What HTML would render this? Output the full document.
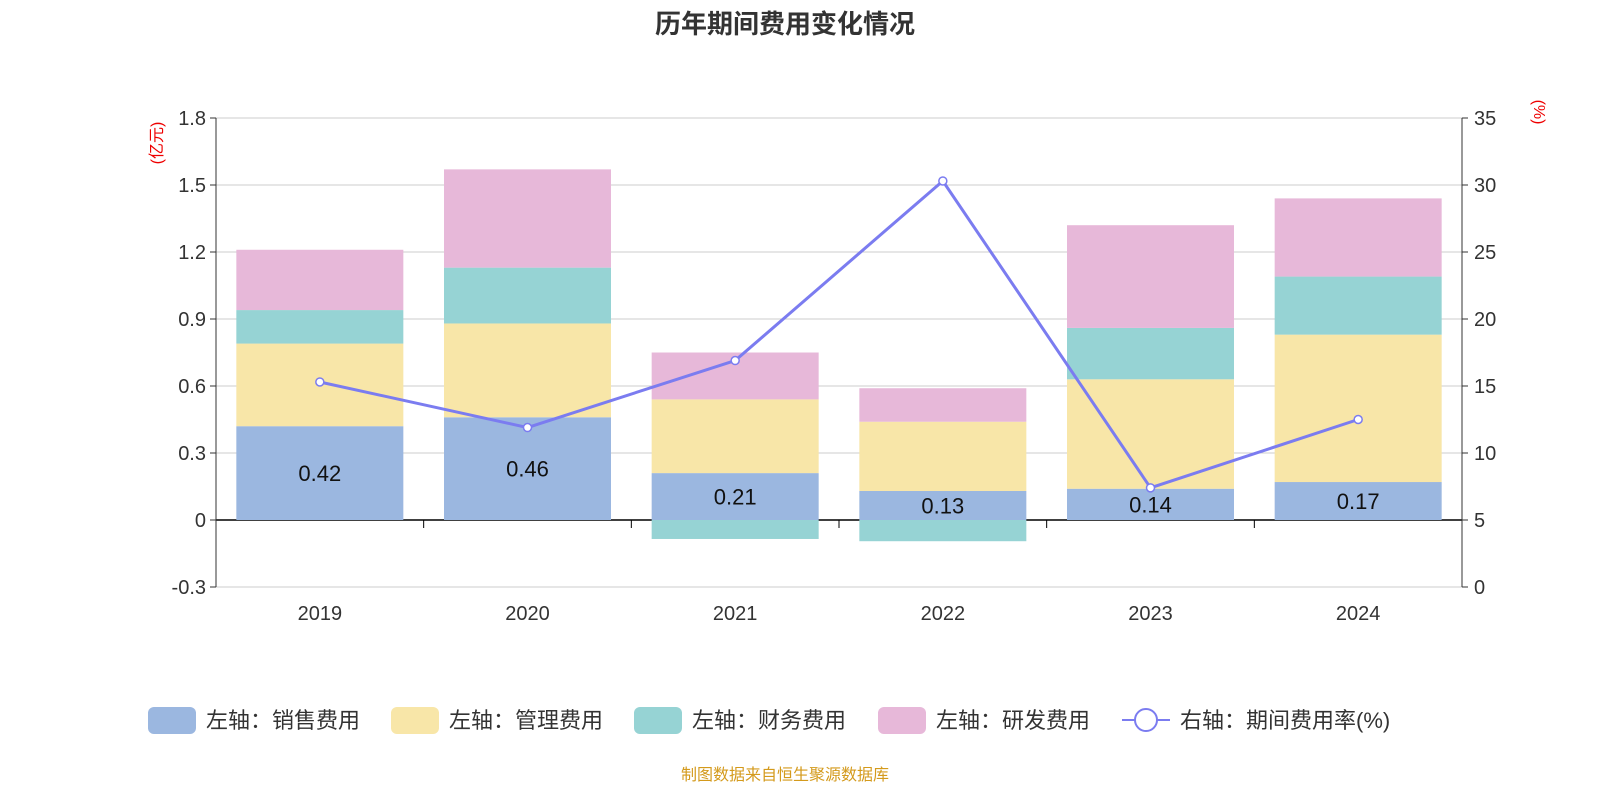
<!DOCTYPE html>
<html><head><meta charset="utf-8"><style>
body{margin:0;background:#fff;}
svg{display:block;font-family:"Liberation Sans","Noto Sans CJK SC",sans-serif;}
</style></head><body>
<svg id="chart" width="1600" height="800" viewBox="0 0 1600 800">
<text x="785" y="33" text-anchor="middle" font-size="26" font-weight="bold" fill="#333">历年期间费用变化情况</text>
<text transform="translate(162,143) rotate(-90)" text-anchor="middle" font-size="16" fill="#e00">(亿元)</text>
<text transform="translate(1534,112) rotate(90)" text-anchor="middle" font-size="16" fill="#e00">(%)</text>
<g id="grid"></g><g id="bars"></g><g id="axes"></g><g id="line"></g>
<g id="legend"></g>
<text x="785" y="780" text-anchor="middle" font-size="16" fill="#d49a1c">制图数据来自恒生聚源数据库</text>
</svg>
<script>
const categories=["2019","2020","2021","2022","2023","2024"];
const sales=[0.42,0.46,0.21,0.13,0.14,0.17];
const mgmt=[0.37,0.42,0.33,0.31,0.49,0.66];
const fin=[0.15,0.25,-0.085,-0.095,0.23,0.26];
const rd=[0.27,0.44,0.21,0.15,0.46,0.35];
const rate=[15.3,11.9,16.9,30.3,7.4,12.5];
const leftTicks=[-0.3,0,0.3,0.6,0.9,1.2,1.5,1.8];
const leftTickLabels=["-0.3","0","0.3","0.6","0.9","1.2","1.5","1.8"];
const rightTicks=[0,5,10,15,20,25,30,35];
const NS="http://www.w3.org/2000/svg";
const x0=216,x1=1462,yTop=118,yBot=587;
const yL=v=>yTop+(1.8-v)/2.1*(yBot-yTop);
const yR=v=>yBot-v/35*(yBot-yTop);
const band=(x1-x0)/categories.length;
const xC=i=>x0+band*(i+0.5);
const bw=167;
function mk(tag,attrs,parent,txt){const e=document.createElementNS(NS,tag);for(const k in attrs)e.setAttribute(k,attrs[k]);if(txt!==undefined)e.textContent=txt;document.getElementById(parent).appendChild(e);return e;}
leftTicks.forEach((t,i)=>{
 const y=yL(t);
 const g=mk('line',{x1:x0,x2:x1,y1:y,y2:y,stroke:t===0?'#000':'#ccc','stroke-width':t===0?1.5:1},'grid');
 
 const tk=mk('line',{x1:x0-6,x2:x0,y1:y,y2:y,stroke:'#333'},'axes');
 const l=mk('text',{x:x0-10,y:y+7,'text-anchor':'end','font-size':20,fill:'#333'},'axes',leftTickLabels[i]);
 
});
rightTicks.forEach(t=>{
 const y=yR(t);
 mk('line',{x1:x1,x2:x1+6,y1:y,y2:y,stroke:'#333'},'axes');
 const l=mk('text',{x:x1+12,y:y+7,'font-size':20,fill:'#333'},'axes',String(t));
 
});
mk('line',{x1:x0,x2:x0,y1:yTop,y2:yBot,stroke:'#333'},'axes');
mk('line',{x1:x1,x2:x1,y1:yTop,y2:yBot,stroke:'#333'},'axes');
for(let i=1;i<categories.length;i++){mk('line',{x1:x0+band*i,x2:x0+band*i,y1:yL(0),y2:yL(0)+8,stroke:'#000'},'axes');}
categories.forEach((c,i)=>{
 const l=mk('text',{x:xC(i),y:620,'text-anchor':'middle','font-size':20,fill:'#333'},'axes',c);
 
});
const series=[[sales,'#9bb7e0','sales'],[mgmt,'#f8e6a8','mgmt'],[fin,'#96d3d4','finance'],[rd,'#e7b8d9','rnd']];
categories.forEach((c,i)=>{
 let pos=0,neg=0;
 series.forEach(([arr,col,nm])=>{
  const v=arr[i];let a,b;
  if(v>=0){a=pos;b=pos+v;pos=b;}else{a=neg;b=neg+v;neg=b;}
  const yt=yL(Math.max(a,b)),yb=yL(Math.min(a,b));
  const r=mk('rect',{x:xC(i)-bw/2,y:yt,width:bw,height:yb-yt,fill:col},'bars');
  
 });
 const t=mk('text',{x:xC(i),y:(yL(0)+yL(sales[i]))/2+8,'text-anchor':'middle','font-size':22,fill:'#111'},'bars',sales[i].toFixed(2));
 
});
const pts=rate.map((v,i)=>xC(i)+','+yR(v)).join(' ');
const pl=mk('polyline',{points:pts,fill:'none',stroke:'#7b7cf0','stroke-width':3},'line');

rate.forEach((v,i)=>{
 const p=mk('circle',{cx:xC(i),cy:yR(v),r:4,fill:'#fff',stroke:'#7b7cf0','stroke-width':1.5},'line');
 
});
const leg=[['左轴：销售费用','#9bb7e0',148],['左轴：管理费用','#f8e6a8',391],['左轴：财务费用','#96d3d4',634],['左轴：研发费用','#e7b8d9',878]];
leg.forEach(([t,c,x])=>{
 const r=mk('rect',{x:x,y:707,width:48,height:27,rx:6,fill:c},'legend');
 
 const tx=mk('text',{x:x+58,y:728,'font-size':22,fill:'#333'},'legend',t);
 
});
mk('line',{x1:1122,x2:1170,y1:720,y2:720,stroke:'#7b7cf0','stroke-width':2},'legend');
const lc=mk('circle',{cx:1146,cy:720,r:11,fill:'#fff',stroke:'#7b7cf0','stroke-width':2},'legend');

const lt=mk('text',{x:1180,y:728,'font-size':22,fill:'#333'},'legend','右轴：期间费用率(%)');

</script>
</body></html>
